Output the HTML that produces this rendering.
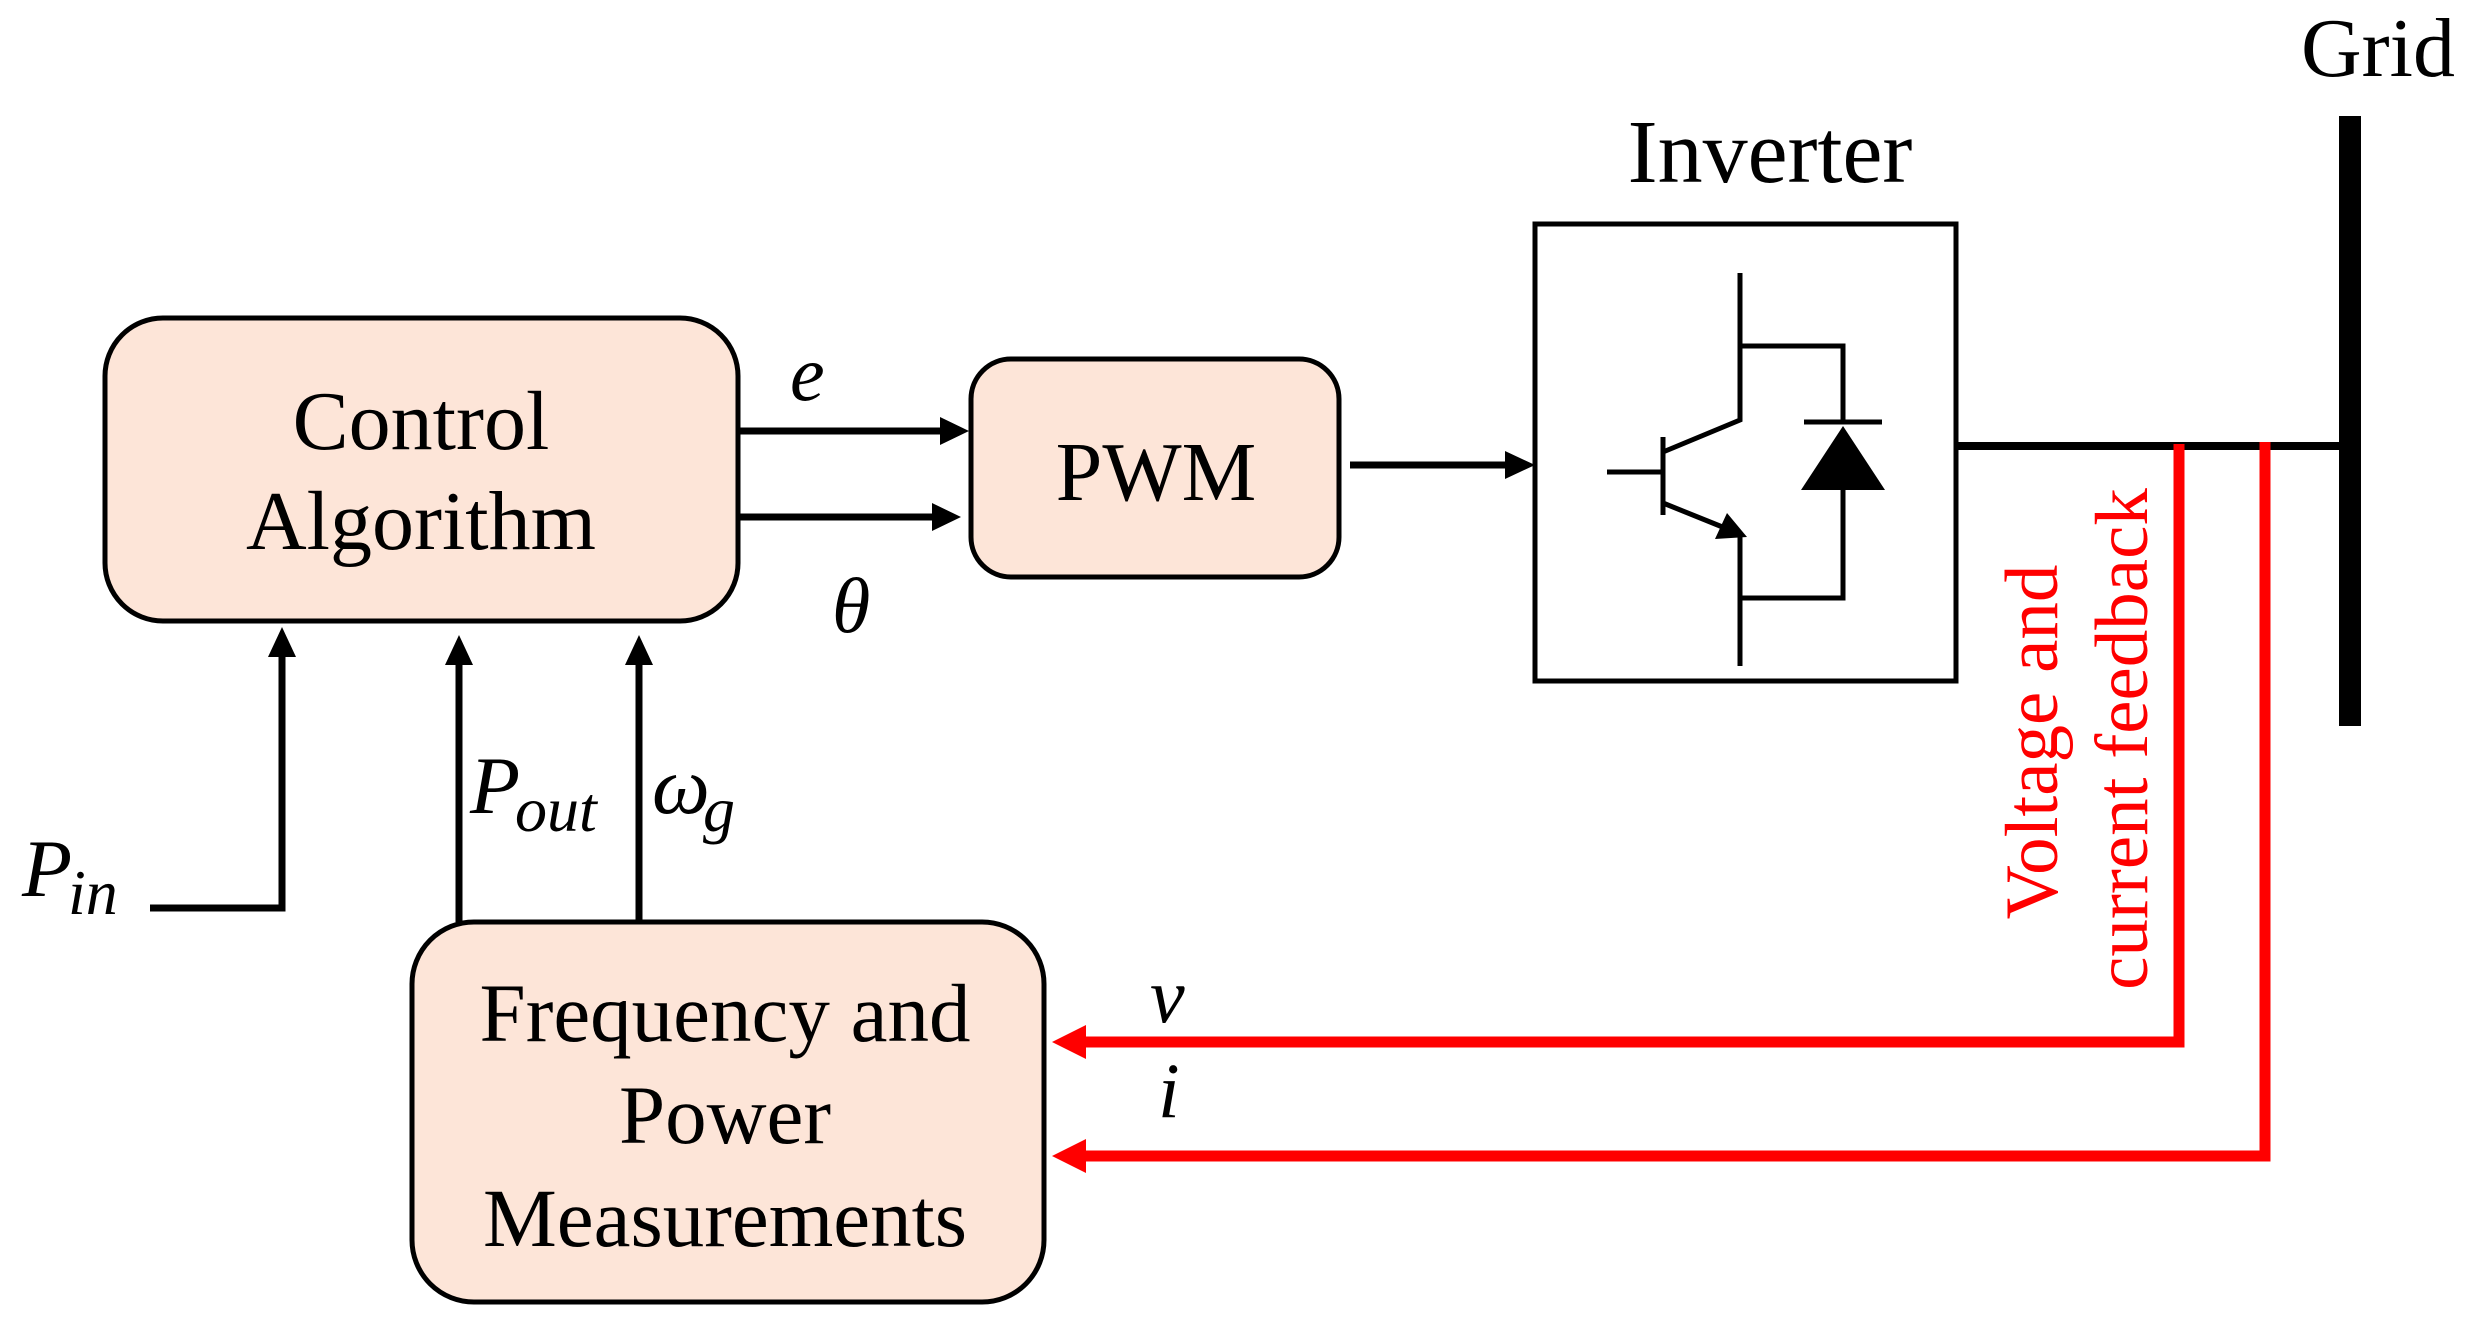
<!DOCTYPE html>
<html><head><meta charset="utf-8"><style>
html,body{margin:0;padding:0;background:#fff;}
svg{display:block;}
.t{font-family:"Liberation Serif",serif;fill:#000;}
.m{font-family:"Liberation Serif",serif;font-style:italic;fill:#000;}
</style></head><body>
<svg width="2470" height="1327" viewBox="0 0 2470 1327" xmlns="http://www.w3.org/2000/svg">
<rect x="105" y="318" width="633" height="303" rx="58" fill="#FDE5D8" stroke="#000" stroke-width="5"/>
<rect x="971" y="359" width="368" height="218" rx="40" fill="#FDE5D8" stroke="#000" stroke-width="5"/>
<rect x="412" y="922" width="632" height="380" rx="62" fill="#FDE5D8" stroke="#000" stroke-width="5"/>
<text class="t" x="421" y="449" font-size="84" text-anchor="middle">Control</text>
<text class="t" x="421" y="549" font-size="84" text-anchor="middle">Algorithm</text>
<text class="t" x="1156" y="500" font-size="84" text-anchor="middle">PWM</text>
<text class="t" x="725" y="1041" font-size="83" text-anchor="middle">Frequency and</text>
<text class="t" x="725" y="1143" font-size="83" text-anchor="middle">Power</text>
<text class="t" x="725" y="1246" font-size="83" text-anchor="middle">Measurements</text>
<g stroke="#000" stroke-width="7" fill="none">
<line x1="740" y1="431" x2="942" y2="431"/>
<line x1="740" y1="517" x2="935" y2="517"/>
<line x1="1350" y1="465" x2="1505" y2="465"/>
<polyline points="150,908 282,908 282,655"/>
<line x1="459" y1="922" x2="459" y2="662"/>
<line x1="639" y1="922" x2="639" y2="662"/>
</g>
<g fill="#000">
<polygon points="969,431 940,417 940,445"/>
<polygon points="961,517 932,503 932,531"/>
<polygon points="1535,465 1505,451 1505,479"/>
<polygon points="282,627 268,657 296,657"/>
<polygon points="459,635 445,665 473,665"/>
<polygon points="639,635 625,665 653,665"/>
</g>
<text class="m" x="790" y="400" font-size="78">e</text>
<text class="m" x="832" y="632" font-size="78">θ</text>
<text class="m" x="22" y="896" font-size="82">P</text>
<text class="m" x="68" y="914" font-size="64">in</text>
<text class="m" x="470" y="813" font-size="82">P</text>
<text class="m" x="515" y="831" font-size="64">out</text>
<text class="m" x="652" y="813" font-size="82">ω</text>
<text class="m" x="703" y="831" font-size="64">g</text>
<text class="m" x="1150" y="1022" font-size="78">v</text>
<text class="m" x="1158" y="1117" font-size="78">i</text>
<text class="t" x="1770" y="182" font-size="90" text-anchor="middle">Inverter</text>
<rect x="1535" y="224" width="421" height="457" fill="none" stroke="#000" stroke-width="5"/>
<g stroke="#000" stroke-width="5" fill="none">
<polyline points="1740,273 1740,420 1663,452"/>
<line x1="1663" y1="437" x2="1663" y2="515"/>
<line x1="1607" y1="472" x2="1663" y2="472"/>
<line x1="1663" y1="503" x2="1725" y2="528"/>
<line x1="1740" y1="537" x2="1740" y2="666"/>
<polyline points="1740,346 1843,346 1843,422"/>
<line x1="1804" y1="422" x2="1882" y2="422"/>
<polyline points="1843,490 1843,598 1740,598"/>
</g>
<polygon points="1747,537 1715,539 1727,513" fill="#000"/>
<polygon points="1843,426 1801,490 1885,490" fill="#000"/>
<line x1="1956" y1="446" x2="2350" y2="446" stroke="#000" stroke-width="8"/>
<rect x="2339" y="116" width="22" height="610" fill="#000"/>
<text class="t" x="2378" y="76" font-size="84" text-anchor="middle">Grid</text>
<g stroke="#FF0000" stroke-width="11" fill="none">
<polyline points="2179,444 2179,1042 1080,1042"/>
<polyline points="2265,442 2265,1156 1080,1156"/>
</g>
<g fill="#FF0000">
<polygon points="1052,1042 1086,1025 1086,1059"/>
<polygon points="1052,1156 1086,1139 1086,1173"/>
</g>
<text x="2057" y="742" font-size="75" fill="#FF0000" font-family="Liberation Serif, serif" text-anchor="middle" transform="rotate(-90 2057 742)">Voltage and</text>
<text x="2147" y="739" font-size="75" fill="#FF0000" font-family="Liberation Serif, serif" text-anchor="middle" transform="rotate(-90 2147 739)">current feedback</text>
</svg>
</body></html>
